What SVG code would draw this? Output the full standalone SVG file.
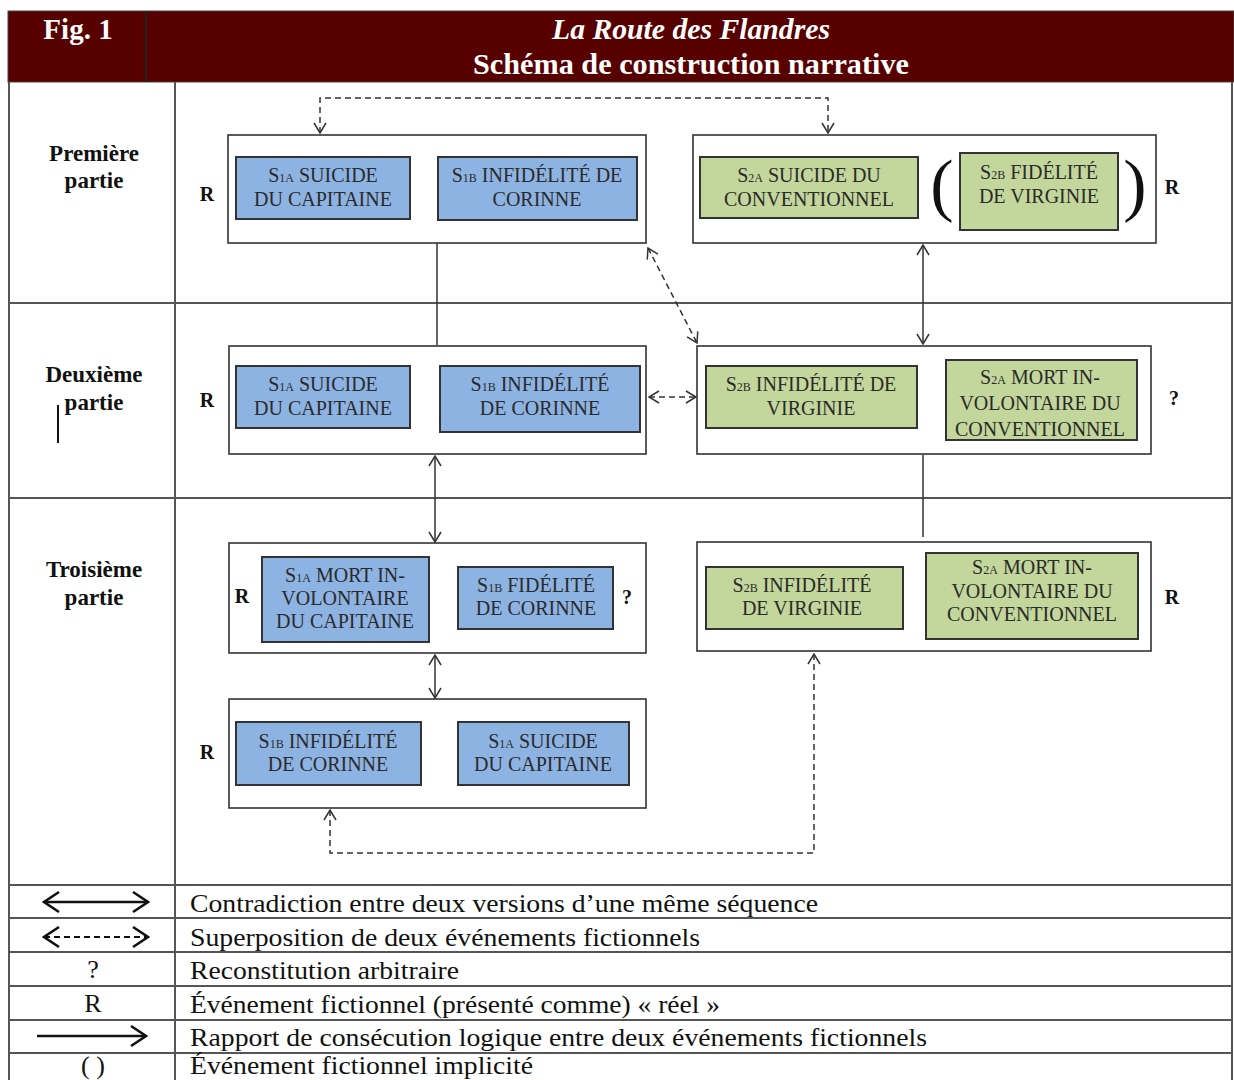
<svg xmlns="http://www.w3.org/2000/svg" width="1234" height="1080" viewBox="0 0 1234 1080">
<style>
.grid{stroke:#555;stroke-width:2;fill:none}
.outer{fill:#fff;stroke:#333;stroke-width:1.6}
.blue{fill:#8DB3E2;stroke:#333;stroke-width:2}
.green{fill:#C3D69B;stroke:#333;stroke-width:2}
.bt{font-family:"Liberation Serif","Times New Roman",serif;font-size:20px;fill:#2a2a2a;text-anchor:middle}
.sub{font-size:12px}
.lab{font-family:"Liberation Serif","Times New Roman",serif;font-size:23px;font-weight:bold;fill:#111;text-anchor:middle}
.rq{font-family:"Liberation Serif","Times New Roman",serif;font-size:20px;font-weight:bold;fill:#111;text-anchor:middle}
.leg{font-family:"Liberation Serif","Times New Roman",serif;font-size:26px;fill:#111}
.legs{font-family:"Liberation Serif","Times New Roman",serif;font-size:26px;fill:#111;text-anchor:middle}
.hd{font-family:"Liberation Serif","Times New Roman",serif;font-weight:bold;fill:#fff;text-anchor:middle}
.conn{stroke:#333;stroke-width:1.5;fill:none}
.dash{stroke-dasharray:6 4}
.par{font-family:"Liberation Serif","Times New Roman",serif;font-size:70px;fill:#111;text-anchor:middle}
</style>
<defs>
<marker id="ah" markerUnits="userSpaceOnUse" markerWidth="12" markerHeight="14" viewBox="0 0 12 14" refX="11" refY="7" orient="auto-start-reverse">
<path d="M1,1 L11,7 L1,13" fill="none" stroke="#333" stroke-width="1.5"/>
</marker>
<marker id="ahL" markerUnits="userSpaceOnUse" markerWidth="18" markerHeight="22" viewBox="0 0 18 22" refX="16" refY="11" orient="auto-start-reverse">
<path d="M1,1 L16,11 L1,21" fill="none" stroke="#111" stroke-width="2.5"/>
</marker>
</defs>
<rect width="1234" height="1080" fill="#fff"/>

<g id="header">
<rect x="8" y="11" width="1226" height="71" fill="#560000" stroke="#444" stroke-width="1"/>
<line x1="146" y1="11" x2="146" y2="82" stroke="#222" stroke-width="2"/>
<text class="hd" x="78" y="39" font-size="29">Fig. 1</text>
<text class="hd" x="691" y="39" font-size="29" font-style="italic" textLength="278" lengthAdjust="spacingAndGlyphs">La Route des Flandres</text>
<text class="hd" x="691" y="74" font-size="29" textLength="436" lengthAdjust="spacingAndGlyphs">Schéma de construction narrative</text>
</g>

<g id="grid">
<line class="grid" x1="9" y1="82" x2="9" y2="1080"/>
<line class="grid" x1="1232" y1="82" x2="1232" y2="1080"/>
<line class="grid" x1="175" y1="82" x2="175" y2="1080"/>
<line class="grid" x1="9" y1="303" x2="1232" y2="303"/>
<line class="grid" x1="9" y1="498" x2="1232" y2="498"/>
<line class="grid" x1="9" y1="885" x2="1232" y2="885"/>
<line class="grid" x1="9" y1="918" x2="1232" y2="918"/>
<line class="grid" x1="9" y1="952" x2="1232" y2="952"/>
<line class="grid" x1="9" y1="986" x2="1232" y2="986"/>
<line class="grid" x1="9" y1="1020" x2="1232" y2="1020"/>
<line class="grid" x1="9" y1="1053" x2="1232" y2="1053"/>
</g>

<g id="row-labels">
<text class="lab" x="94" y="161">Première</text>
<text class="lab" x="94" y="188">partie</text>
<text class="lab" x="94" y="382">Deuxième</text>
<text class="lab" x="94" y="410">partie</text>
<line x1="58" y1="405" x2="58" y2="443" stroke="#111" stroke-width="2"/>
<text class="lab" x="94" y="577">Troisième</text>
<text class="lab" x="94" y="605">partie</text>
</g>

<g id="connectors">
<path class="conn dash" d="M320,133 V98 H828 V133" marker-start="url(#ah)" marker-end="url(#ah)"/>
<path class="conn" d="M437,243 V345"/>
<path class="conn" d="M923,245 V344" marker-start="url(#ah)" marker-end="url(#ah)"/>
<path class="conn dash" d="M648,248 L697,343" marker-start="url(#ah)" marker-end="url(#ah)"/>
<path class="conn dash" d="M649,397 H696" marker-start="url(#ah)" marker-end="url(#ah)"/>
<path class="conn" d="M435,456 V542" marker-start="url(#ah)" marker-end="url(#ah)"/>
<path class="conn" d="M923,455 V537"/>
<path class="conn" d="M435,655 V698" marker-start="url(#ah)" marker-end="url(#ah)"/>
<path class="conn dash" d="M330,810 V853 H814 V654" marker-start="url(#ah)" marker-end="url(#ah)"/>
<path class="conn" d="M410,188 H437" marker-end="url(#ah)"/>
<path class="conn dash" d="M919,187 H932" stroke-dasharray="3 2" marker-end="url(#ah)"/>
<path class="conn" d="M410,397 H439" marker-end="url(#ah)"/>
<path class="conn" d="M917,397 H945" marker-end="url(#ah)"/>
<path class="conn" d="M429,597 H457" marker-end="url(#ah)"/>
<path class="conn" d="M903,596 H925" marker-end="url(#ah)"/>
<path class="conn" d="M422,754 H457" marker-end="url(#ah)"/>
</g>

<g id="p1-left">
<rect class="outer" x="228" y="135" width="418" height="108"/>
<text class="rq" x="207" y="201">R</text>
<rect class="blue" x="236" y="157" width="174" height="62"/>
<text class="bt" x="323" y="182">S<tspan class="sub">1A</tspan> SUICIDE</text>
<text class="bt" x="323" y="206">DU CAPITAINE</text>
<rect class="blue" x="438" y="157" width="199" height="63"/>
<text class="bt" x="537" y="182">S<tspan class="sub">1B</tspan> INFIDÉLITÉ DE</text>
<text class="bt" x="537" y="206">CORINNE</text>
</g>

<g id="p1-right">
<rect class="outer" x="693" y="135" width="463" height="108"/>
<rect class="green" x="700" y="157" width="218" height="61"/>
<text class="bt" x="809" y="182">S<tspan class="sub">2A</tspan> SUICIDE DU</text>
<text class="bt" x="809" y="206">CONVENTIONNEL</text>
<text class="par" x="942" y="208">(</text>
<rect class="green" x="960" y="153" width="158" height="77"/>
<text class="bt" x="1039" y="179">S<tspan class="sub">2B</tspan> FIDÉLITÉ</text>
<text class="bt" x="1039" y="203">DE VIRGINIE</text>
<text class="par" x="1135" y="208">)</text>
<text class="rq" x="1172" y="194">R</text>
</g>

<g id="p2-left">
<rect class="outer" x="229" y="346" width="417" height="108"/>
<text class="rq" x="207" y="407">R</text>
<rect class="blue" x="236" y="366" width="174" height="62"/>
<text class="bt" x="323" y="391">S<tspan class="sub">1A</tspan> SUICIDE</text>
<text class="bt" x="323" y="415">DU CAPITAINE</text>
<rect class="blue" x="440" y="366" width="200" height="66"/>
<text class="bt" x="540" y="391">S<tspan class="sub">1B</tspan> INFIDÉLITÉ</text>
<text class="bt" x="540" y="415">DE CORINNE</text>
</g>

<g id="p2-right">
<rect class="outer" x="697" y="346" width="454" height="108"/>
<rect class="green" x="706" y="366" width="211" height="62"/>
<text class="bt" x="811" y="391">S<tspan class="sub">2B</tspan> INFIDÉLITÉ DE</text>
<text class="bt" x="811" y="415">VIRGINIE</text>
<rect class="green" x="946" y="360" width="191" height="80"/>
<text class="bt" x="1040" y="384">S<tspan class="sub">2A</tspan> MORT IN-</text>
<text class="bt" x="1040" y="410">VOLONTAIRE DU</text>
<text class="bt" x="1040" y="436">CONVENTIONNEL</text>
<text class="rq" x="1174" y="405">?</text>
</g>

<g id="p3-left-a">
<rect class="outer" x="229" y="543" width="417" height="110"/>
<text class="rq" x="242" y="603">R</text>
<rect class="blue" x="262" y="557" width="167" height="85"/>
<text class="bt" x="345" y="582">S<tspan class="sub">1A</tspan> MORT IN-</text>
<text class="bt" x="345" y="605">VOLONTAIRE</text>
<text class="bt" x="345" y="628">DU CAPITAINE</text>
<rect class="blue" x="458" y="567" width="155" height="62"/>
<text class="bt" x="536" y="592">S<tspan class="sub">1B</tspan> FIDÉLITÉ</text>
<text class="bt" x="536" y="615">DE CORINNE</text>
<text class="rq" x="627" y="604">?</text>
</g>

<g id="p3-left-b">
<rect class="outer" x="229" y="699" width="417" height="109"/>
<text class="rq" x="207" y="759">R</text>
<rect class="blue" x="236" y="722" width="185" height="63"/>
<text class="bt" x="328" y="748">S<tspan class="sub">1B</tspan> INFIDÉLITÉ</text>
<text class="bt" x="328" y="771">DE CORINNE</text>
<rect class="blue" x="458" y="722" width="171" height="63"/>
<text class="bt" x="543" y="748">S<tspan class="sub">1A</tspan> SUICIDE</text>
<text class="bt" x="543" y="771">DU CAPITAINE</text>
</g>

<g id="p3-right">
<rect class="outer" x="697" y="542" width="454" height="109"/>
<rect class="green" x="706" y="567" width="197" height="62"/>
<text class="bt" x="802" y="592">S<tspan class="sub">2B</tspan> INFIDÉLITÉ</text>
<text class="bt" x="802" y="615">DE VIRGINIE</text>
<rect class="green" x="926" y="553" width="212" height="86"/>
<text class="bt" x="1032" y="574">S<tspan class="sub">2A</tspan> MORT IN-</text>
<text class="bt" x="1032" y="598">VOLONTAIRE DU</text>
<text class="bt" x="1032" y="621">CONVENTIONNEL</text>
<text class="rq" x="1172" y="604">R</text>
</g>

<g id="legend">
<path d="M44,902 H148" stroke="#111" stroke-width="2.5" fill="none" marker-start="url(#ahL)" marker-end="url(#ahL)"/>
<path d="M44,937 H148" stroke="#111" stroke-width="2.2" stroke-dasharray="6 4" fill="none" marker-start="url(#ahL)" marker-end="url(#ahL)"/>
<text class="legs" x="93" y="978">?</text>
<text class="legs" x="93" y="1012">R</text>
<path d="M37,1036 H146" stroke="#111" stroke-width="2.5" fill="none" marker-end="url(#ahL)"/>
<text class="legs" x="93" y="1074">( )</text>
<text class="leg" x="190" y="912" textLength="628" lengthAdjust="spacingAndGlyphs">Contradiction entre deux versions d’une même séquence</text>
<text class="leg" x="190" y="946" textLength="510" lengthAdjust="spacingAndGlyphs">Superposition de deux événements fictionnels</text>
<text class="leg" x="190" y="979" textLength="269" lengthAdjust="spacingAndGlyphs">Reconstitution arbitraire</text>
<text class="leg" x="190" y="1013" textLength="530" lengthAdjust="spacingAndGlyphs">Événement fictionnel (présenté comme) « réel »</text>
<text class="leg" x="190" y="1046" textLength="737" lengthAdjust="spacingAndGlyphs">Rapport de consécution logique entre deux événements fictionnels</text>
<text class="leg" x="190" y="1074" textLength="343" lengthAdjust="spacingAndGlyphs">Événement fictionnel implicité</text>
</g>
</svg>
